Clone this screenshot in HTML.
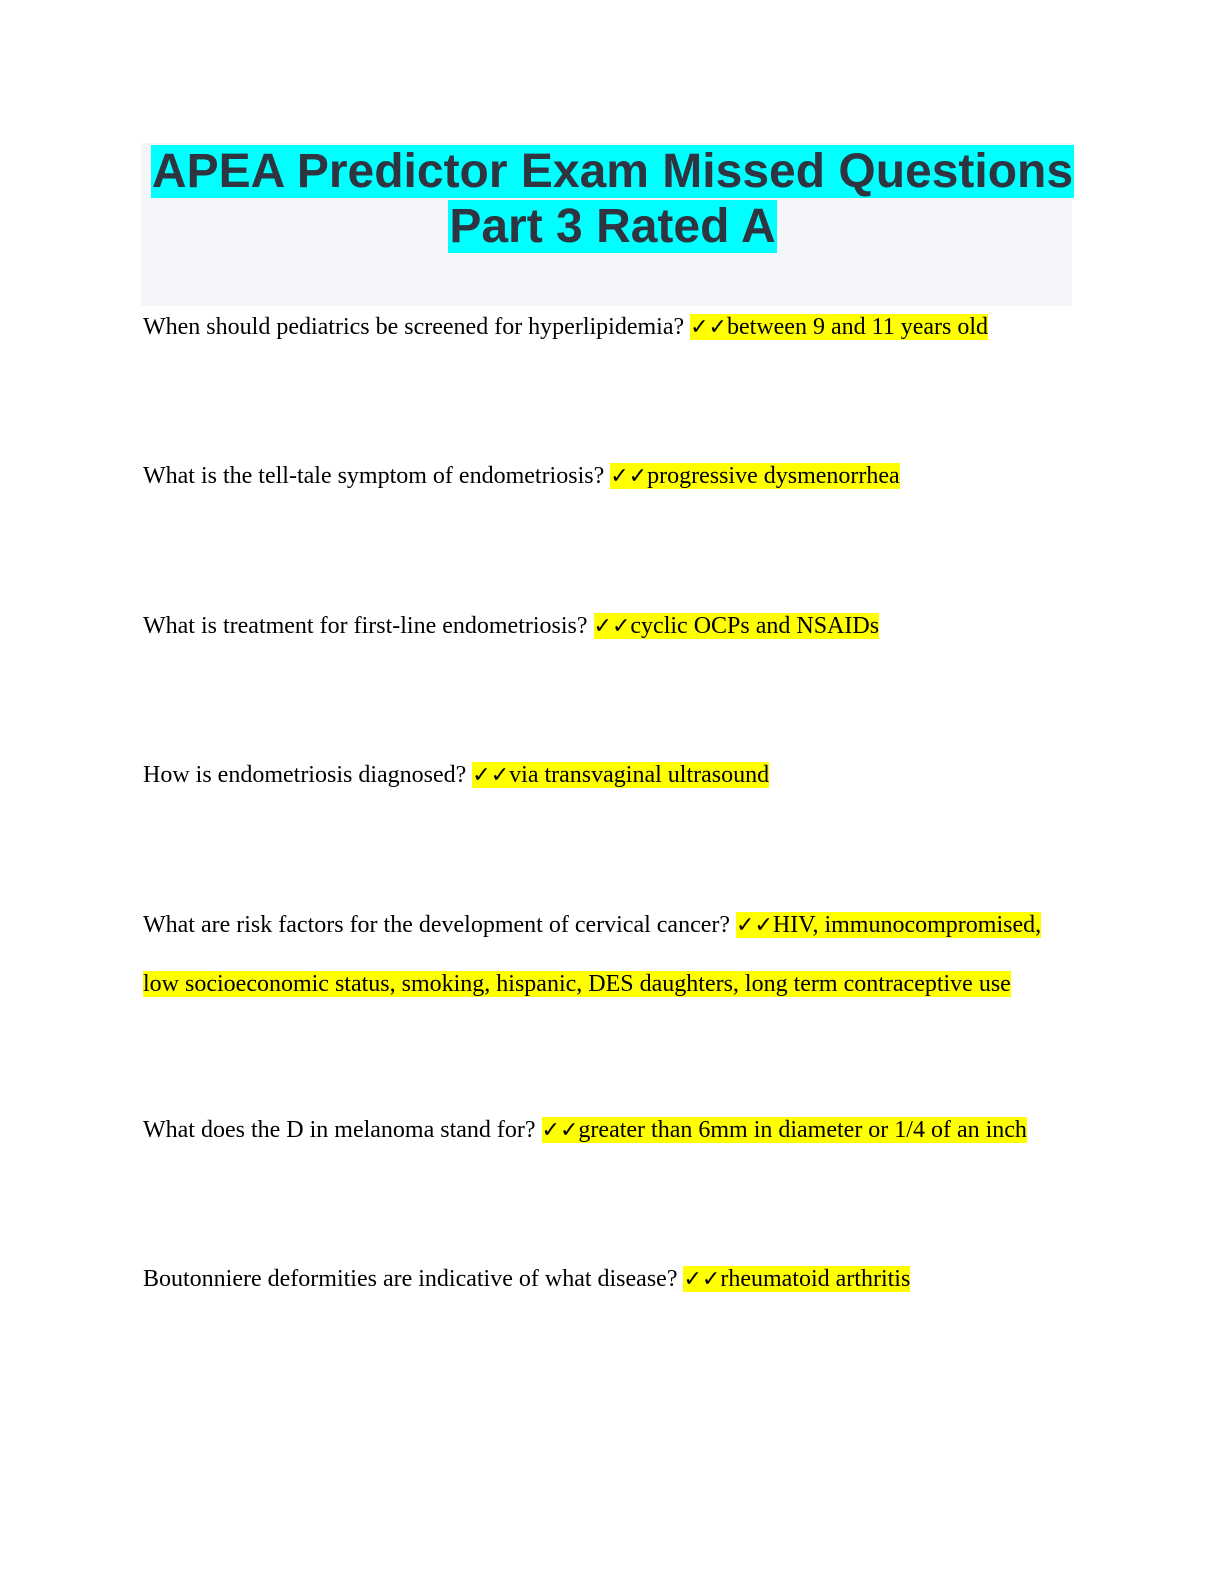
<!DOCTYPE html>
<html><head><meta charset="utf-8"><style>
body{margin:0;background:#fff;width:1224px;height:1584px;position:relative;overflow:hidden}
.box{position:absolute;left:141px;top:143px;width:931px;height:163px;background:#f5f6fa}
.t{position:absolute;left:147px;width:931px;text-align:center;font-family:"Liberation Sans",sans-serif;font-weight:bold;font-size:48px;line-height:55px;color:#2e3440}
.t span{background:#00ffff;padding:0 1px}
.q{position:absolute;left:143px;font-family:"Liberation Serif",serif;font-size:24px;line-height:31px;color:#000;white-space:nowrap}
.h{background:#ffff00}
.c{font-family:"DejaVu Sans",sans-serif;font-weight:bold;font-size:22px}
</style></head><body>
<div class="box"></div>
<div class="t" style="top:144px"><span>APEA Predictor Exam Missed Questions</span></div>
<div class="t" style="top:199px"><span>Part 3 Rated A</span></div>
<div class="q" style="top:312px">When should pediatrics be screened for hyperlipidemia? <span class="h"><span class="c">✓✓</span>between 9 and 11 years old</span></div>
<div class="q" style="top:461px">What is the tell-tale symptom of endometriosis? <span class="h"><span class="c">✓✓</span>progressive dysmenorrhea</span></div>
<div class="q" style="top:611px">What is treatment for first-line endometriosis? <span class="h"><span class="c">✓✓</span>cyclic OCPs and NSAIDs</span></div>
<div class="q" style="top:760px">How is endometriosis diagnosed? <span class="h"><span class="c">✓✓</span>via transvaginal ultrasound</span></div>
<div class="q" style="top:910px">What are risk factors for the development of cervical cancer? <span class="h"><span class="c">✓✓</span>HIV, immunocompromised,</span></div>
<div class="q" style="top:969px"><span class="h">low socioeconomic status, smoking, hispanic, DES daughters, long term contraceptive use</span></div>
<div class="q" style="top:1115px">What does the D in melanoma stand for? <span class="h"><span class="c">✓✓</span>greater than 6mm in diameter or 1/4 of an inch</span></div>
<div class="q" style="top:1264px">Boutonniere deformities are indicative of what disease? <span class="h"><span class="c">✓✓</span>rheumatoid arthritis</span></div>
</body></html>
